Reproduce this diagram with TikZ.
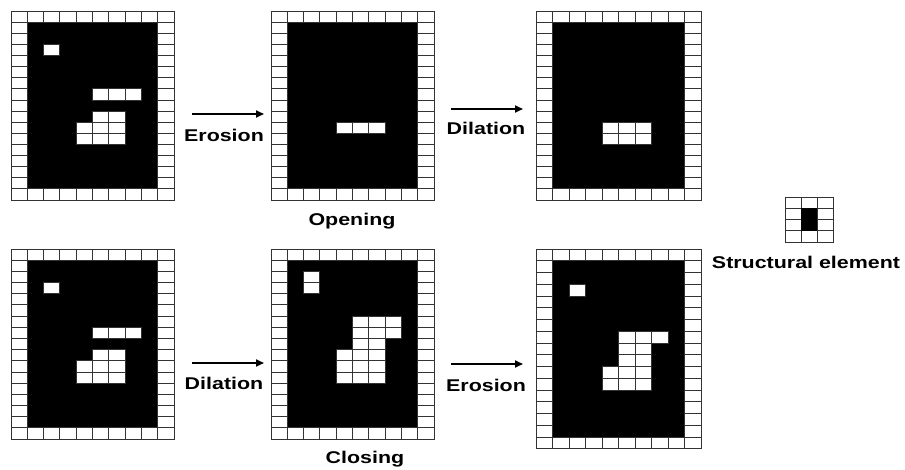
\documentclass[tikz,border=0pt]{standalone}
\usepackage{fontspec}
\setmainfont{Liberation Sans}[FakeStretch=1.26]
\usetikzlibrary{arrows.meta,positioning}

% 10 x 17 image: black inside, white frame, plus white cells (col/row)
\newcommand{\morphgrid}[5]{%
  \begin{scope}[shift={(#1,#2)}, x=#3pt, y=-#4pt]
    \fill[black] (0,0) rectangle (10,17);
    \foreach \c in {0,...,9} {
      \draw[cell] (\c,0) rectangle ++(1,1);
      \draw[cell] (\c,16) rectangle ++(1,1);
    }
    \foreach \r in {1,...,15} {
      \draw[cell] (0,\r) rectangle ++(1,1);
      \draw[cell] (9,\r) rectangle ++(1,1);
    }
    \foreach \c/\r in {#5}
      \draw[cell] (\c,\r) rectangle ++(1,1);
  \end{scope}}

\begin{document}
\begin{tikzpicture}[x=1pt, y=-1pt,
    cell/.style={draw=black!80, fill=white, line width=0.85pt},
    arr/.style={-{Triangle[length=8pt,width=7pt]}, line width=1.8pt},
    lbl/.style={font=\bfseries\fontsize{17}{20}\selectfont, inner sep=0pt}
]
\useasboundingbox (0,0) rectangle (905,470);

% opening
\morphgrid{11}{11}{16.3}{11.12}{2/3, 5/7, 6/7, 7/7, 5/9, 6/9,
  4/10, 5/10, 6/10, 4/11, 5/11, 6/11}
\morphgrid{271}{11}{16.3}{11.12}{4/10, 5/10, 6/10}
\morphgrid{536}{11}{16.5}{11.12}{4/10, 5/10, 6/10, 4/11, 5/11, 6/11}

\coordinate (opA) at (192,114);
\coordinate (opB) at (264,114);
\coordinate (opC) at (451,109);
\coordinate (opD) at (523,109);
\draw[arr] (opA) -- (opB);
\draw[arr] (opC) -- (opD);
\node[lbl] (opEro) at (224,135) {Erosion};
\node[lbl] (opDil) at (486,128) {Dilation};
\node[lbl] (opening) at (352,221) {Opening};

% closing
\morphgrid{11}{249}{16.3}{11.18}{2/3, 5/7, 6/7, 7/7, 5/9, 6/9,
  4/10, 5/10, 6/10, 4/11, 5/11, 6/11}
\morphgrid{271}{249}{16.3}{11.18}{2/2, 2/3, 5/6, 6/6, 7/6, 5/7, 6/7, 7/7,
  5/8, 6/8, 4/9, 5/9, 6/9, 4/10, 5/10, 6/10, 4/11, 5/11, 6/11}
\morphgrid{536}{249}{16.5}{11.76}{2/3, 5/7, 6/7, 7/7, 5/8, 6/8, 5/9, 6/9,
  4/10, 5/10, 6/10, 4/11, 5/11, 6/11}

\coordinate (clA) at (192,363);
\coordinate (clB) at (264,363);
\coordinate (clC) at (451,364);
\coordinate (clD) at (523,364);
\draw[arr] (clA) -- (clB);
\draw[arr] (clC) -- (clD);
\node[lbl] (clDil) at (224,383) {Dilation};
\node[lbl] (clEro) at (486,385) {Erosion};
\node[lbl] (closing) at (365,459) {Closing};

% structural element
\begin{scope}[shift={(785,197)}, x=16pt, y=-11.25pt]
  \foreach \c in {0,1,2}
    \foreach \r in {0,...,3}
      \draw[cell] (\c,\r) rectangle ++(1,1);
  \fill[black] (1,1) rectangle (2,3);
\end{scope}
\node[lbl] (selem) at (806,262) {Structural element};

\end{tikzpicture}
\end{document}
